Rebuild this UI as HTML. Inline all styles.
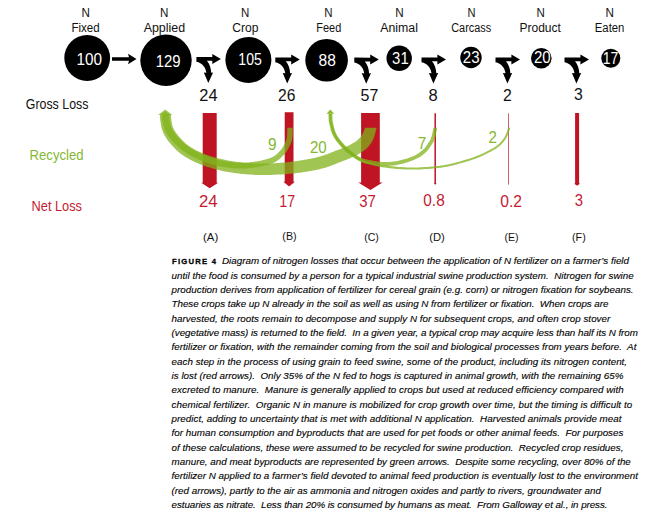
<!DOCTYPE html>
<html><head><meta charset="utf-8"><title>Figure 4</title>
<style>html,body{margin:0;padding:0;background:#fff;overflow:hidden;}svg{display:block;}text{font-family:"Liberation Sans",sans-serif;}</style></head><body>
<svg width="658" height="526" viewBox="0 0 658 526">
<rect width="658" height="526" fill="#fff"/>
<text x="85.6" y="16.8" font-size="12" fill="#111" text-anchor="middle" textLength="8.4" lengthAdjust="spacingAndGlyphs">N</text>
<text x="85.6" y="31.7" font-size="12" fill="#111" text-anchor="middle" textLength="28.2" lengthAdjust="spacingAndGlyphs">Fixed</text>
<text x="164.1" y="16.8" font-size="12" fill="#111" text-anchor="middle" textLength="8.4" lengthAdjust="spacingAndGlyphs">N</text>
<text x="164.4" y="31.7" font-size="12" fill="#111" text-anchor="middle" textLength="41.5" lengthAdjust="spacingAndGlyphs">Applied</text>
<text x="245.2" y="16.8" font-size="12" fill="#111" text-anchor="middle" textLength="8.3" lengthAdjust="spacingAndGlyphs">N</text>
<text x="245.4" y="31.7" font-size="12" fill="#111" text-anchor="middle" textLength="26.2" lengthAdjust="spacingAndGlyphs">Crop</text>
<text x="328.4" y="16.8" font-size="12" fill="#111" text-anchor="middle" textLength="8.3" lengthAdjust="spacingAndGlyphs">N</text>
<text x="328.8" y="31.7" font-size="12" fill="#111" text-anchor="middle" textLength="24.9" lengthAdjust="spacingAndGlyphs">Feed</text>
<text x="399.4" y="16.8" font-size="12" fill="#111" text-anchor="middle" textLength="8.4" lengthAdjust="spacingAndGlyphs">N</text>
<text x="399.1" y="31.7" font-size="12" fill="#111" text-anchor="middle" textLength="37.7" lengthAdjust="spacingAndGlyphs">Animal</text>
<text x="471.5" y="16.8" font-size="12" fill="#111" text-anchor="middle" textLength="8.0" lengthAdjust="spacingAndGlyphs">N</text>
<text x="471.2" y="31.7" font-size="12" fill="#111" text-anchor="middle" textLength="39.9" lengthAdjust="spacingAndGlyphs">Carcass</text>
<text x="540.6" y="16.8" font-size="12" fill="#111" text-anchor="middle" textLength="8.3" lengthAdjust="spacingAndGlyphs">N</text>
<text x="540.2" y="31.7" font-size="12" fill="#111" text-anchor="middle" textLength="41.5" lengthAdjust="spacingAndGlyphs">Product</text>
<text x="609.6" y="16.8" font-size="12" fill="#111" text-anchor="middle" textLength="8.4" lengthAdjust="spacingAndGlyphs">N</text>
<text x="609.6" y="31.7" font-size="12" fill="#111" text-anchor="middle" textLength="29.6" lengthAdjust="spacingAndGlyphs">Eaten</text>
<circle cx="87.2" cy="58.0" r="22.9" fill="#000"/>
<circle cx="166.0" cy="60.3" r="25.7" fill="#000"/>
<circle cx="248.4" cy="59.9" r="23.0" fill="#000"/>
<circle cx="326.6" cy="60.2" r="21.3" fill="#000"/>
<circle cx="399.2" cy="58.3" r="12.7" fill="#000"/>
<circle cx="471.0" cy="57.5" r="10.7" fill="#000"/>
<circle cx="541.3" cy="58.2" r="10.3" fill="#000"/>
<circle cx="610.8" cy="58.3" r="9.5" fill="#000"/>
<text x="89.3" y="64.6" font-size="15.6" fill="#fff" text-anchor="middle" textLength="25.6" lengthAdjust="spacingAndGlyphs">100</text>
<text x="168.2" y="66.7" font-size="15.6" fill="#fff" text-anchor="middle" textLength="24.9" lengthAdjust="spacingAndGlyphs">129</text>
<text x="250.1" y="65.0" font-size="15.6" fill="#fff" text-anchor="middle" textLength="23.5" lengthAdjust="spacingAndGlyphs">105</text>
<text x="327.2" y="66.2" font-size="15.6" fill="#fff" text-anchor="middle" textLength="17.3" lengthAdjust="spacingAndGlyphs">88</text>
<text x="400.4" y="63.9" font-size="15.6" fill="#fff" text-anchor="middle" textLength="16.6" lengthAdjust="spacingAndGlyphs">31</text>
<text x="471.2" y="63.2" font-size="15.6" fill="#fff" text-anchor="middle" textLength="16.8" lengthAdjust="spacingAndGlyphs">23</text>
<text x="542.3" y="63.2" font-size="15.6" fill="#fff" text-anchor="middle" textLength="16.8" lengthAdjust="spacingAndGlyphs">20</text>
<text x="610.6" y="63.9" font-size="15.6" fill="#fff" text-anchor="middle" textLength="15.6" lengthAdjust="spacingAndGlyphs">17</text>
<path d="M112.0,57.3 L129.0,57.3 L128.0,53.75 L136.5,59.0 L128.0,64.25 L129.0,60.7 L112.0,60.7 Z" fill="#000"/>
<path d="M196.4,57.0 L212.3,57.1 L212.3,54.0 L220.9,59.0 L212.3,64.0 L212.3,60.8 L206.9,60.8 C209.6,64.0 211.1,68.5 211.2,72.8 L213.1,72.5 L208.3,83.1 L203.8,72.5 L206.4,72.8 C205.8,68.0 202.2,62.6 196.4,61.8 Z" fill="#000"/>
<path d="M275.3,57.4 L291.2,57.5 L291.2,54.4 L299.8,59.4 L291.2,64.4 L291.2,61.2 L285.8,61.2 C288.5,64.4 290.0,68.9 290.1,73.2 L292.0,72.9 L287.2,83.5 L282.7,72.9 L285.3,73.2 C284.7,68.4 281.1,63.0 275.3,62.2 Z" fill="#000"/>
<path d="M354.3,57.6 L370.2,57.7 L370.2,54.6 L378.8,59.6 L370.2,64.6 L370.2,61.4 L364.8,61.4 C367.5,64.6 369.0,69.1 369.1,73.4 L371.0,73.1 L366.2,83.7 L361.7,73.1 L364.3,73.4 C363.7,68.6 360.1,63.2 354.3,62.4 Z" fill="#000"/>
<path d="M421.5,57.4 L437.4,57.5 L437.4,54.4 L446.0,59.4 L437.4,64.4 L437.4,61.2 L432.0,61.2 C434.7,64.4 436.2,68.9 436.3,73.2 L438.2,72.9 L433.4,83.5 L428.9,72.9 L431.5,73.2 C430.9,68.4 427.3,63.0 421.5,62.2 Z" fill="#000"/>
<path d="M495.5,57.4 L511.4,57.5 L511.4,54.4 L520.0,59.4 L511.4,64.4 L511.4,61.2 L506.0,61.2 C508.7,64.4 510.2,68.9 510.3,73.2 L512.2,72.9 L507.4,83.5 L502.9,72.9 L505.5,73.2 C504.9,68.4 501.3,63.0 495.5,62.2 Z" fill="#000"/>
<path d="M564.5,57.4 L580.4,57.5 L580.4,54.4 L589.0,59.4 L580.4,64.4 L580.4,61.2 L575.0,61.2 C577.7,64.4 579.2,68.9 579.3,73.2 L581.2,72.9 L576.4,83.5 L571.9,72.9 L574.5,73.2 C573.9,68.4 570.3,63.0 564.5,62.2 Z" fill="#000"/>
<text x="208.4" y="100.6" font-size="15.6" fill="#111" text-anchor="middle" textLength="18.2" lengthAdjust="spacingAndGlyphs">24</text>
<text x="286.7" y="100.6" font-size="15.6" fill="#111" text-anchor="middle" textLength="17.4" lengthAdjust="spacingAndGlyphs">26</text>
<text x="369.4" y="100.6" font-size="15.6" fill="#111" text-anchor="middle" textLength="17.8" lengthAdjust="spacingAndGlyphs">57</text>
<text x="433.0" y="100.6" font-size="15.6" fill="#111" text-anchor="middle" textLength="9.2" lengthAdjust="spacingAndGlyphs">8</text>
<text x="507.4" y="100.6" font-size="15.6" fill="#111" text-anchor="middle" textLength="8.8" lengthAdjust="spacingAndGlyphs">2</text>
<text x="578.4" y="99.7" font-size="15.6" fill="#111" text-anchor="middle" textLength="8.8" lengthAdjust="spacingAndGlyphs">3</text>
<text x="25.8" y="109.0" font-size="14" fill="#111" text-anchor="start" textLength="62.6" lengthAdjust="spacingAndGlyphs">Gross Loss</text>
<text x="29.6" y="160.0" font-size="14" fill="#84b832" text-anchor="start" textLength="54.0" lengthAdjust="spacingAndGlyphs">Recycled</text>
<text x="31.6" y="210.8" font-size="14" fill="#c41c32" text-anchor="start" textLength="50.4" lengthAdjust="spacingAndGlyphs">Net Loss</text>
<path d="M202.7,113.0 L216.7,113.0 L216.7,182.8 L218.2,182.8 L209.7,188.3 L201.2,182.8 L202.7,182.8 Z" fill="#be1424"/>
<path d="M284.70000000000005,112.2 L293.5,112.2 L293.5,181.8 L294.90000000000003,181.8 L289.1,186.4 L283.3,181.8 L284.70000000000005,181.8 Z" fill="#be1424"/>
<path d="M361.09999999999997,113.1 L379.8,113.1 L379.8,182.6 L382.59999999999997,182.6 L370.45,190.1 L358.3,182.6 L361.09999999999997,182.6 Z" fill="#be1424"/>
<path d="M434.45,113.3 L435.95,113.3 L435.95,183.2 L436.7,183.2 L435.2,184.8 L433.7,183.2 L434.45,183.2 Z" fill="#be1424"/>
<rect x="508.0" y="113.3" width="0.9" height="71.3" fill="#be1424" opacity="0.75"/>
<path d="M575.1,112.9 L579.1,112.9 L579.1,183.4 L580.2,183.4 L577.1,185.8 L574.0,183.4 L575.1,183.4 Z" fill="#be1424"/>
<defs><clipPath id="cg"><rect x="0" y="127.7" width="658" height="100"/><rect x="150" y="113.6" width="40" height="20"/><rect x="322" y="113.4" width="18" height="20"/></clipPath></defs>
<g clip-path="url(#cg)">
<path d="M367.0,120.1 L366.8,120.8 L366.6,121.6 L366.5,122.4 L366.3,123.1 L366.2,123.8 L366.0,124.5 L365.8,125.3 L365.5,126.2 L365.2,127.2 L364.8,128.3 L364.5,129.4 L364.1,130.5 L363.7,131.6 L363.2,132.6 L362.8,133.5 L362.3,134.4 L361.8,135.2 L361.2,136.0 L360.6,136.8 L360.0,137.6 L359.3,138.4 L358.6,139.1 L357.9,139.8 L357.1,140.5 L356.2,141.2 L355.2,141.9 L354.1,142.6 L352.8,143.3 L351.5,144.0 L350.2,144.7 L348.8,145.4 L347.4,146.1 L346.1,146.7 L344.8,147.2 L343.4,147.8 L342.1,148.3 L340.6,148.9 L339.2,149.4 L337.6,150.0 L336.0,150.6 L334.4,151.3 L332.8,151.9 L331.1,152.6 L329.5,153.3 L327.9,153.9 L326.3,154.5 L324.7,155.0 L323.2,155.6 L321.7,156.0 L320.2,156.4 L318.8,156.8 L317.3,157.2 L315.8,157.6 L314.3,157.9 L312.6,158.3 L310.7,158.7 L308.8,159.0 L306.6,159.4 L304.4,159.8 L302.1,160.2 L299.8,160.6 L297.5,161.0 L295.1,161.3 L292.8,161.6 L290.5,161.9 L288.3,162.1 L286.0,162.4 L283.7,162.6 L281.4,162.8 L279.1,162.9 L276.8,163.1 L274.5,163.2 L272.2,163.3 L269.9,163.4 L267.6,163.5 L265.3,163.6 L263.0,163.6 L260.7,163.6 L258.5,163.6 L256.2,163.5 L253.9,163.4 L251.7,163.3 L249.4,163.2 L247.1,163.0 L244.9,162.8 L242.6,162.6 L240.4,162.3 L238.1,162.1 L235.8,161.8 L233.6,161.4 L231.3,161.1 L229.0,160.7 L226.8,160.3 L224.5,159.8 L222.3,159.3 L220.1,158.8 L217.8,158.2 L215.5,157.6 L213.2,156.9 L210.9,156.2 L208.6,155.4 L206.4,154.7 L204.3,153.9 L202.2,153.0 L200.3,152.2 L198.3,151.3 L196.5,150.4 L194.7,149.4 L193.0,148.5 L191.3,147.5 L189.8,146.5 L188.3,145.5 L187.0,144.4 L185.7,143.4 L184.4,142.3 L183.2,141.1 L182.1,140.0 L181.0,138.8 L179.9,137.6 L178.9,136.4 L177.9,135.3 L177.0,134.1 L176.2,133.0 L175.4,131.9 L174.8,130.9 L174.1,129.8 L173.6,128.8 L173.2,127.8 L172.8,126.9 L172.5,125.9 L172.2,124.8 L172.0,123.7 L171.8,122.6 L171.6,121.4 L171.4,120.3 L171.3,119.4 L171.2,118.5 L171.1,117.9 L171.1,117.4 L171.0,116.9 L171.0,116.4 L171.0,115.8 L171.0,115.1 L171.0,114.5 L160.0,114.7 L160.0,115.3 L160.0,115.9 L160.0,116.5 L160.0,117.2 L160.1,118.0 L160.1,118.9 L160.2,119.8 L160.4,120.8 L160.5,121.9 L160.7,123.1 L160.9,124.4 L161.1,125.8 L161.4,127.3 L161.8,128.9 L162.4,130.5 L163.0,132.1 L163.7,133.7 L164.5,135.2 L165.3,136.6 L166.2,138.1 L167.2,139.5 L168.2,140.9 L169.3,142.2 L170.4,143.6 L171.6,144.9 L172.8,146.3 L174.1,147.7 L175.4,149.1 L176.9,150.5 L178.4,151.8 L180.1,153.2 L181.8,154.5 L183.6,155.7 L185.4,156.9 L187.4,158.1 L189.4,159.2 L191.4,160.3 L193.5,161.3 L195.7,162.4 L197.9,163.3 L200.2,164.3 L202.5,165.2 L205.0,166.0 L207.4,166.9 L209.9,167.6 L212.4,168.4 L214.9,169.1 L217.3,169.7 L219.8,170.3 L222.2,170.9 L224.6,171.4 L227.1,171.8 L229.5,172.2 L231.9,172.6 L234.3,173.0 L236.7,173.3 L239.1,173.6 L241.5,173.9 L243.9,174.1 L246.2,174.3 L248.6,174.5 L251.0,174.6 L253.4,174.8 L255.8,174.9 L258.2,174.9 L260.6,175.0 L263.1,175.0 L265.5,175.0 L267.9,174.9 L270.3,174.9 L272.7,174.8 L275.1,174.8 L277.5,174.6 L279.8,174.5 L282.2,174.4 L284.6,174.2 L287.0,174.0 L289.4,173.8 L291.8,173.6 L294.2,173.4 L296.7,173.1 L299.1,172.8 L301.6,172.4 L304.0,172.1 L306.4,171.7 L308.7,171.3 L310.9,170.9 L313.0,170.6 L315.0,170.2 L316.8,169.8 L318.6,169.4 L320.2,169.0 L321.9,168.6 L323.5,168.2 L325.2,167.7 L326.9,167.2 L328.7,166.6 L330.4,166.0 L332.2,165.3 L334.0,164.6 L335.7,163.9 L337.3,163.3 L338.9,162.6 L340.5,162.0 L342.0,161.4 L343.5,160.8 L345.0,160.3 L346.5,159.7 L348.0,159.1 L349.5,158.5 L351.1,157.8 L352.6,157.1 L354.1,156.4 L355.7,155.6 L357.2,154.8 L358.8,154.0 L360.3,153.1 L361.8,152.1 L363.3,151.1 L364.8,150.0 L366.1,148.9 L367.3,147.7 L368.5,146.5 L369.5,145.3 L370.5,144.0 L371.3,142.7 L372.1,141.4 L372.8,140.0 L373.5,138.5 L374.1,137.0 L374.6,135.5 L375.0,134.0 L375.4,132.6 L375.7,131.3 L376.0,130.1 L376.3,129.0 L376.5,127.9 L376.7,126.9 L376.9,125.9 L377.0,125.0 L377.1,124.2 L377.2,123.5 L377.3,122.7 L377.4,121.9 Z" fill="#80b219" fill-opacity="0.75"/>
<path d="M287.6,120.9 L287.5,121.8 L287.5,122.6 L287.5,123.4 L287.5,124.2 L287.4,125.1 L287.4,126.0 L287.4,126.9 L287.3,128.0 L287.3,129.2 L287.3,130.5 L287.2,131.9 L287.2,133.3 L287.1,134.6 L287.1,135.9 L286.9,137.1 L286.8,138.1 L286.6,139.0 L286.4,139.8 L286.1,140.6 L285.8,141.3 L285.5,142.0 L285.2,142.7 L284.8,143.5 L284.4,144.3 L284.0,145.0 L283.6,145.8 L283.2,146.5 L282.8,147.1 L282.4,147.8 L281.9,148.5 L281.4,149.2 L280.8,149.9 L280.2,150.6 L279.4,151.5 L278.6,152.3 L277.8,153.1 L277.0,153.9 L276.1,154.7 L275.3,155.3 L274.4,155.9 L273.6,156.4 L272.8,156.9 L271.9,157.3 L271.0,157.7 L270.1,158.0 L269.1,158.4 L268.1,158.7 L267.2,159.0 L266.2,159.3 L265.3,159.6 L264.4,159.8 L263.5,160.1 L262.5,160.3 L261.5,160.5 L260.5,160.7 L259.3,160.9 L258.1,161.1 L256.8,161.4 L255.5,161.6 L254.1,161.8 L252.7,162.0 L251.3,162.1 L249.9,162.3 L248.5,162.4 L247.0,162.5 L245.6,162.7 L244.1,162.7 L242.7,162.8 L241.2,162.8 L239.7,162.8 L238.1,162.8 L236.3,162.7 L234.4,162.5 L232.4,162.3 L230.3,162.0 L228.2,161.7 L226.0,161.4 L223.8,161.0 L221.6,160.5 L219.4,160.0 L217.2,159.4 L215.0,158.8 L212.7,158.1 L210.5,157.4 L208.2,156.6 L206.1,155.8 L203.9,154.9 L201.9,154.1 L199.9,153.2 L198.0,152.3 L196.1,151.4 L194.3,150.4 L192.5,149.4 L190.8,148.4 L189.2,147.4 L187.7,146.3 L186.3,145.3 L184.9,144.2 L183.6,143.1 L182.4,141.9 L181.2,140.8 L180.1,139.6 L179.0,138.4 L177.9,137.3 L176.9,136.1 L176.0,135.0 L175.1,133.9 L174.3,132.8 L173.5,131.7 L172.9,130.6 L172.3,129.6 L171.7,128.5 L171.3,127.4 L170.9,126.3 L170.5,125.2 L170.2,123.9 L170.0,122.7 L169.7,121.6 L169.5,120.5 L169.3,119.5 L169.2,118.7 L169.1,118.0 L169.1,117.4 L169.1,116.9 L169.0,116.3 L169.0,115.7 L169.0,115.1 L169.0,114.5 L162.0,114.7 L162.0,115.3 L162.0,115.9 L162.1,116.5 L162.1,117.2 L162.1,117.9 L162.2,118.8 L162.3,119.7 L162.5,120.7 L162.7,121.8 L163.0,122.9 L163.2,124.2 L163.5,125.6 L163.9,127.0 L164.4,128.5 L164.9,130.0 L165.6,131.4 L166.3,132.8 L167.1,134.2 L167.9,135.5 L168.8,136.8 L169.8,138.0 L170.8,139.3 L171.9,140.5 L173.0,141.7 L174.1,143.0 L175.3,144.2 L176.6,145.5 L177.9,146.7 L179.3,148.0 L180.8,149.2 L182.4,150.5 L184.0,151.6 L185.7,152.8 L187.5,153.9 L189.3,155.0 L191.2,156.0 L193.2,157.0 L195.2,158.0 L197.3,159.0 L199.4,159.9 L201.6,160.8 L203.9,161.6 L206.2,162.4 L208.5,163.2 L210.9,164.0 L213.3,164.7 L215.6,165.3 L218.0,165.9 L220.3,166.4 L222.7,166.9 L225.0,167.3 L227.3,167.6 L229.6,167.9 L231.8,168.1 L233.9,168.3 L235.9,168.5 L237.8,168.6 L239.6,168.6 L241.3,168.6 L242.9,168.6 L244.5,168.5 L246.0,168.4 L247.5,168.3 L249.0,168.1 L250.5,168.0 L252.0,167.8 L253.5,167.6 L255.0,167.4 L256.4,167.2 L257.8,167.0 L259.1,166.7 L260.4,166.5 L261.6,166.3 L262.7,166.0 L263.8,165.8 L264.8,165.5 L265.8,165.3 L266.8,165.0 L267.9,164.7 L268.9,164.4 L269.9,164.0 L271.0,163.7 L272.0,163.3 L273.1,162.9 L274.2,162.4 L275.3,161.9 L276.4,161.2 L277.5,160.5 L278.6,159.8 L279.7,158.9 L280.7,158.0 L281.7,157.1 L282.6,156.1 L283.5,155.2 L284.3,154.3 L285.1,153.4 L285.8,152.5 L286.4,151.7 L287.0,150.8 L287.5,150.0 L288.0,149.2 L288.4,148.3 L288.8,147.5 L289.2,146.7 L289.6,146.0 L290.0,145.2 L290.4,144.3 L290.8,143.4 L291.2,142.5 L291.6,141.4 L291.9,140.3 L292.1,139.1 L292.3,137.8 L292.4,136.4 L292.5,134.9 L292.6,133.4 L292.6,132.0 L292.6,130.6 L292.6,129.3 L292.7,128.2 L292.7,127.1 L292.7,126.1 L292.8,125.2 L292.8,124.4 L292.8,123.5 L292.8,122.7 L292.8,121.9 L292.8,121.1 Z" fill="#80b219" fill-opacity="0.75"/>
<path d="M434.4,120.8 L434.3,121.5 L434.2,122.2 L434.2,122.8 L434.1,123.4 L434.0,124.1 L434.0,124.8 L433.8,125.7 L433.6,126.7 L433.4,127.9 L433.1,129.3 L432.8,130.8 L432.5,132.4 L432.1,134.0 L431.8,135.4 L431.4,136.8 L431.0,138.0 L430.7,138.9 L430.3,139.8 L429.9,140.5 L429.5,141.1 L429.1,141.8 L428.7,142.4 L428.2,143.1 L427.7,143.9 L427.1,144.7 L426.6,145.4 L426.1,146.2 L425.6,146.9 L425.0,147.7 L424.4,148.4 L423.7,149.1 L423.0,149.8 L422.1,150.6 L421.2,151.3 L420.3,152.1 L419.3,152.8 L418.2,153.6 L417.0,154.3 L415.7,155.0 L414.3,155.7 L412.7,156.4 L411.0,157.0 L409.1,157.7 L407.2,158.4 L405.2,159.0 L403.2,159.6 L401.3,160.1 L399.5,160.5 L397.8,160.9 L396.2,161.2 L394.6,161.4 L393.0,161.6 L391.5,161.8 L390.1,161.9 L388.7,162.0 L387.5,162.1 L386.3,162.1 L385.3,162.1 L384.4,162.1 L383.5,162.0 L382.6,162.0 L381.8,161.9 L381.0,161.8 L380.2,161.7 L379.5,161.7 L379.0,161.6 L378.5,161.6 L378.1,161.6 L377.6,161.5 L377.0,161.4 L376.2,161.3 L375.1,161.1 L373.8,160.9 L372.3,160.6 L370.6,160.3 L368.8,160.0 L366.9,159.6 L365.1,159.2 L363.4,158.7 L361.8,158.0 L360.3,157.3 L358.7,156.5 L357.2,155.5 L355.7,154.4 L354.3,153.4 L352.8,152.3 L351.5,151.2 L350.3,150.3 L349.2,149.3 L348.2,148.5 L347.3,147.7 L346.5,146.9 L345.7,146.1 L344.9,145.3 L344.2,144.4 L343.4,143.6 L342.7,142.8 L341.9,141.9 L341.2,141.1 L340.5,140.2 L339.9,139.4 L339.3,138.6 L338.7,137.7 L338.1,137.0 L337.7,136.2 L337.2,135.5 L336.8,134.8 L336.5,134.1 L336.1,133.4 L335.8,132.6 L335.5,131.8 L335.1,130.9 L334.8,129.9 L334.5,128.7 L334.1,127.5 L333.8,126.2 L333.5,124.9 L333.3,123.7 L333.0,122.7 L332.8,121.8 L332.7,121.0 L332.6,120.5 L332.5,120.0 L332.5,119.7 L332.5,119.4 L332.5,119.1 L332.5,118.6 L332.4,118.2 L332.4,117.7 L332.4,117.1 L332.4,116.5 L332.4,115.9 L332.4,115.3 L332.4,114.7 L332.4,114.1 L332.3,113.5 L328.5,113.5 L328.5,114.1 L328.5,114.8 L328.5,115.4 L328.5,116.0 L328.5,116.6 L328.5,117.2 L328.5,117.8 L328.6,118.3 L328.6,118.8 L328.6,119.2 L328.6,119.6 L328.6,120.0 L328.7,120.5 L328.8,121.1 L328.9,121.7 L329.0,122.5 L329.2,123.5 L329.5,124.6 L329.7,125.8 L330.1,127.1 L330.4,128.4 L330.7,129.7 L331.1,131.0 L331.5,132.1 L331.8,133.2 L332.2,134.1 L332.6,135.0 L333.0,135.8 L333.4,136.6 L333.9,137.4 L334.4,138.3 L334.9,139.1 L335.5,140.0 L336.1,140.8 L336.8,141.7 L337.5,142.6 L338.3,143.5 L339.0,144.4 L339.8,145.3 L340.6,146.2 L341.3,147.0 L342.1,147.9 L342.9,148.7 L343.8,149.6 L344.7,150.5 L345.7,151.4 L346.7,152.3 L347.9,153.2 L349.1,154.3 L350.5,155.3 L351.9,156.4 L353.5,157.6 L355.1,158.7 L356.8,159.7 L358.5,160.7 L360.3,161.6 L362.2,162.3 L364.1,162.9 L366.1,163.4 L368.0,163.8 L369.9,164.1 L371.6,164.4 L373.2,164.6 L374.5,164.8 L375.5,165.0 L376.4,165.2 L377.1,165.3 L377.7,165.3 L378.2,165.4 L378.7,165.4 L379.3,165.5 L379.9,165.5 L380.6,165.6 L381.4,165.7 L382.3,165.7 L383.2,165.8 L384.2,165.9 L385.3,165.9 L386.4,165.9 L387.7,165.9 L389.0,165.8 L390.4,165.7 L391.9,165.6 L393.5,165.4 L395.1,165.2 L396.8,164.9 L398.6,164.6 L400.4,164.2 L402.3,163.7 L404.2,163.2 L406.3,162.6 L408.3,162.0 L410.3,161.3 L412.3,160.6 L414.2,159.8 L415.9,159.1 L417.4,158.3 L418.9,157.5 L420.2,156.7 L421.4,155.9 L422.6,155.1 L423.6,154.2 L424.6,153.4 L425.5,152.6 L426.4,151.7 L427.2,150.9 L427.9,150.0 L428.6,149.2 L429.2,148.3 L429.7,147.5 L430.2,146.7 L430.7,146.0 L431.2,145.3 L431.7,144.6 L432.2,143.8 L432.7,143.1 L433.2,142.3 L433.7,141.4 L434.1,140.3 L434.6,139.2 L435.0,137.8 L435.4,136.4 L435.8,134.8 L436.1,133.2 L436.5,131.6 L436.8,130.0 L437.1,128.6 L437.3,127.4 L437.5,126.3 L437.6,125.4 L437.7,124.5 L437.8,123.8 L437.9,123.1 L437.9,122.5 L438.0,121.8 L438.0,121.2 Z" fill="#80b219" fill-opacity="0.75"/>
<path d="M510.6,120.7 L510.3,121.4 L510.1,122.1 L509.9,122.8 L509.6,123.5 L509.4,124.3 L509.1,125.1 L508.8,126.0 L508.4,127.0 L508.0,128.1 L507.6,129.4 L507.2,130.7 L506.8,132.1 L506.2,133.5 L505.7,134.8 L505.0,136.2 L504.3,137.4 L503.5,138.6 L502.6,139.8 L501.7,141.0 L500.7,142.1 L499.6,143.3 L498.3,144.4 L496.9,145.5 L495.3,146.7 L493.4,147.9 L491.3,149.1 L489.1,150.3 L486.7,151.5 L484.2,152.7 L481.6,153.9 L479.1,155.0 L476.6,156.0 L474.1,157.0 L471.5,157.9 L468.9,158.7 L466.3,159.5 L463.8,160.3 L461.3,161.0 L459.0,161.7 L456.9,162.3 L455.0,162.8 L453.2,163.2 L451.6,163.6 L450.1,164.0 L448.7,164.3 L447.3,164.6 L446.0,164.8 L444.6,165.1 L443.3,165.3 L442.1,165.5 L440.8,165.6 L439.6,165.8 L438.4,165.9 L437.2,166.0 L436.0,166.1 L434.8,166.3 L433.6,166.4 L432.4,166.5 L431.2,166.6 L430.0,166.7 L428.7,166.8 L427.5,166.9 L426.2,167.0 L424.8,167.1 L423.4,167.1 L421.9,167.2 L420.3,167.3 L418.7,167.4 L417.2,167.4 L415.6,167.5 L414.0,167.5 L412.4,167.5 L410.8,167.5 L409.3,167.5 L407.7,167.5 L406.2,167.4 L404.6,167.3 L403.1,167.2 L401.5,167.1 L400.0,167.0 L398.4,166.9 L396.8,166.8 L395.1,166.6 L393.5,166.4 L392.0,166.2 L390.4,166.1 L389.0,165.9 L387.7,165.8 L386.6,165.6 L385.6,165.5 L384.7,165.4 L383.9,165.3 L383.0,165.2 L382.2,165.1 L381.2,164.9 L380.1,164.7 L378.8,164.5 L377.3,164.2 L375.8,163.8 L374.2,163.5 L372.6,163.1 L371.1,162.7 L369.7,162.3 L368.4,162.0 L367.3,161.7 L366.4,161.4 L365.6,161.2 L364.9,160.9 L364.2,160.6 L363.4,160.3 L362.5,159.8 L361.4,159.2 L360.2,158.4 L358.7,157.5 L357.2,156.4 L355.6,155.3 L354.0,154.2 L352.5,153.1 L351.1,152.0 L349.8,151.0 L348.7,150.1 L347.7,149.2 L346.7,148.4 L345.9,147.6 L345.1,146.7 L344.3,145.9 L343.6,145.1 L342.8,144.3 L342.1,143.4 L341.3,142.5 L340.6,141.7 L339.9,140.8 L339.2,139.9 L338.6,139.1 L338.0,138.2 L337.4,137.4 L336.9,136.6 L336.5,135.9 L336.1,135.2 L335.7,134.5 L335.3,133.7 L335.0,132.9 L334.7,132.1 L334.3,131.2 L334.0,130.1 L333.7,128.9 L333.3,127.7 L333.0,126.4 L332.7,125.1 L332.4,123.9 L332.2,122.8 L332.0,121.9 L331.9,121.2 L331.8,120.6 L331.7,120.2 L331.7,119.8 L331.6,119.4 L331.6,119.1 L331.6,118.7 L331.6,118.2 L331.6,117.7 L331.6,117.1 L331.5,116.5 L331.5,115.9 L331.5,115.3 L331.5,114.7 L331.5,114.1 L331.5,113.5 L329.3,113.5 L329.3,114.1 L329.3,114.7 L329.3,115.4 L329.3,116.0 L329.3,116.6 L329.4,117.2 L329.4,117.8 L329.4,118.3 L329.4,118.8 L329.4,119.2 L329.5,119.6 L329.5,120.0 L329.5,120.4 L329.6,120.9 L329.7,121.6 L329.9,122.4 L330.1,123.3 L330.3,124.4 L330.6,125.6 L330.9,126.9 L331.2,128.2 L331.5,129.5 L331.9,130.7 L332.3,131.9 L332.6,132.9 L333.0,133.8 L333.4,134.6 L333.8,135.4 L334.2,136.2 L334.6,137.0 L335.1,137.8 L335.6,138.6 L336.2,139.5 L336.8,140.4 L337.5,141.3 L338.2,142.1 L338.9,143.0 L339.7,143.9 L340.4,144.8 L341.2,145.7 L342.0,146.6 L342.7,147.4 L343.5,148.2 L344.4,149.1 L345.3,149.9 L346.2,150.8 L347.3,151.7 L348.4,152.7 L349.8,153.7 L351.2,154.8 L352.8,156.0 L354.4,157.1 L356.0,158.2 L357.6,159.3 L359.0,160.2 L360.3,161.0 L361.4,161.7 L362.4,162.2 L363.3,162.6 L364.1,162.9 L364.9,163.2 L365.8,163.5 L366.8,163.8 L367.9,164.1 L369.1,164.4 L370.6,164.8 L372.1,165.2 L373.7,165.5 L375.3,165.9 L376.9,166.2 L378.3,166.5 L379.7,166.8 L380.8,167.0 L381.8,167.2 L382.7,167.3 L383.6,167.4 L384.5,167.5 L385.4,167.6 L386.4,167.7 L387.5,167.9 L388.8,168.0 L390.2,168.2 L391.7,168.4 L393.3,168.5 L394.9,168.7 L396.6,168.9 L398.2,169.0 L399.8,169.1 L401.4,169.3 L403.0,169.3 L404.5,169.4 L406.1,169.5 L407.7,169.6 L409.2,169.6 L410.8,169.6 L412.4,169.6 L414.0,169.6 L415.6,169.6 L417.2,169.5 L418.8,169.5 L420.4,169.4 L422.0,169.3 L423.5,169.2 L424.9,169.1 L426.3,169.1 L427.6,169.0 L428.9,168.9 L430.1,168.8 L431.4,168.7 L432.6,168.6 L433.8,168.5 L435.0,168.3 L436.2,168.2 L437.4,168.1 L438.6,168.0 L439.8,167.8 L441.1,167.7 L442.3,167.5 L443.7,167.3 L445.0,167.1 L446.3,166.9 L447.7,166.6 L449.1,166.3 L450.6,166.0 L452.1,165.6 L453.7,165.2 L455.5,164.8 L457.4,164.2 L459.6,163.6 L461.9,163.0 L464.3,162.3 L466.9,161.5 L469.5,160.7 L472.2,159.8 L474.8,158.9 L477.4,157.9 L479.9,156.9 L482.5,155.7 L485.0,154.6 L487.6,153.3 L490.0,152.1 L492.3,150.8 L494.5,149.6 L496.4,148.4 L498.1,147.1 L499.6,145.9 L501.0,144.7 L502.2,143.5 L503.3,142.3 L504.2,141.1 L505.2,139.8 L506.0,138.5 L506.8,137.1 L507.5,135.7 L508.1,134.2 L508.7,132.7 L509.1,131.3 L509.6,130.0 L510.0,128.7 L510.3,127.6 L510.7,126.6 L511.0,125.7 L511.3,124.9 L511.5,124.2 L511.8,123.4 L512.0,122.7 L512.2,122.0 L512.4,121.3 Z" fill="#80b219" fill-opacity="0.75"/>
</g>
<path d="M158.1,115 L165.2,109.6 L172.4,115 Z" fill="#80b219" fill-opacity="0.75"/>
<path d="M160.4,115 L165.2,111.2 L170.2,115 Z" fill="#80b219" fill-opacity="0.6"/>
<path d="M326.5,113.8 L330.3,109.5 L334.1,113.8 Z" fill="#80b219" fill-opacity="0.9"/>
<text x="272.4" y="150.0" font-size="16.5" fill="#84b832" text-anchor="middle" textLength="8.6" lengthAdjust="spacingAndGlyphs">9</text>
<text x="318.3" y="153.1" font-size="16.5" fill="#84b832" text-anchor="middle" textLength="16.8" lengthAdjust="spacingAndGlyphs">20</text>
<text x="422.1" y="148.6" font-size="16.5" fill="#84b832" text-anchor="middle" textLength="8.6" lengthAdjust="spacingAndGlyphs">7</text>
<text x="492.6" y="142.6" font-size="16.5" fill="#84b832" text-anchor="middle" textLength="8.4" lengthAdjust="spacingAndGlyphs">2</text>
<text x="208.2" y="207.20000000000002" font-size="15.6" fill="#c41c32" text-anchor="middle" textLength="18.6" lengthAdjust="spacingAndGlyphs">24</text>
<text x="287.2" y="207.20000000000002" font-size="15.6" fill="#c41c32" text-anchor="middle" textLength="15.8" lengthAdjust="spacingAndGlyphs">17</text>
<text x="367.6" y="206.8" font-size="15.6" fill="#c41c32" text-anchor="middle" textLength="16.7" lengthAdjust="spacingAndGlyphs">37</text>
<text x="434.0" y="205.9" font-size="15.6" fill="#c41c32" text-anchor="middle" textLength="21.4" lengthAdjust="spacingAndGlyphs">0.8</text>
<text x="511.1" y="207.20000000000002" font-size="15.6" fill="#c41c32" text-anchor="middle" textLength="21.7" lengthAdjust="spacingAndGlyphs">0.2</text>
<text x="579.0" y="206.20000000000002" font-size="15.6" fill="#c41c32" text-anchor="middle" textLength="8.3" lengthAdjust="spacingAndGlyphs">3</text>
<text x="210.6" y="241.4" font-size="11.6" fill="#111" text-anchor="middle" textLength="15.2" lengthAdjust="spacingAndGlyphs">(A)</text>
<text x="289.5" y="240.4" font-size="11.6" fill="#111" text-anchor="middle" textLength="14.3" lengthAdjust="spacingAndGlyphs">(B)</text>
<text x="371.5" y="240.8" font-size="11.6" fill="#111" text-anchor="middle" textLength="14.6" lengthAdjust="spacingAndGlyphs">(C)</text>
<text x="437.0" y="240.8" font-size="11.6" fill="#111" text-anchor="middle" textLength="15.6" lengthAdjust="spacingAndGlyphs">(D)</text>
<text x="511.4" y="240.8" font-size="11.6" fill="#111" text-anchor="middle" textLength="14.0" lengthAdjust="spacingAndGlyphs">(E)</text>
<text x="578.9" y="240.8" font-size="11.6" fill="#111" text-anchor="middle" textLength="13.7" lengthAdjust="spacingAndGlyphs">(F)</text>
<text x="172" y="264.1" font-size="7.7" font-weight="bold" fill="#000" stroke="#000" stroke-width="0.3" textLength="44" lengthAdjust="spacing">FIGURE 4</text>
<text x="222.0" y="264.2" font-size="9.8" font-style="italic" fill="#000" stroke="#000" stroke-width="0.12" textLength="407.0" lengthAdjust="spacing" xml:space="preserve">Diagram of nitrogen losses that occur between the application of N fertilizer on a farmer’s field</text>
<text x="171.6" y="278.53" font-size="9.8" font-style="italic" fill="#000" stroke="#000" stroke-width="0.12" textLength="462.0" lengthAdjust="spacing" xml:space="preserve">until the food is consumed by a person for a typical industrial swine production system.  Nitrogen for swine</text>
<text x="171.6" y="292.87" font-size="9.8" font-style="italic" fill="#000" stroke="#000" stroke-width="0.12" textLength="462.0" lengthAdjust="spacing" xml:space="preserve">production derives from application of fertilizer for cereal grain (e.g. corn) or nitrogen fixation for soybeans.</text>
<text x="171.6" y="307.2" font-size="9.8" font-style="italic" fill="#000" stroke="#000" stroke-width="0.12" textLength="436.8" lengthAdjust="spacing" xml:space="preserve">These crops take up N already in the soil as well as using N from fertilizer or fixation.  When crops are</text>
<text x="171.6" y="321.54" font-size="9.8" font-style="italic" fill="#000" stroke="#000" stroke-width="0.12" textLength="438.7" lengthAdjust="spacing" xml:space="preserve">harvested, the roots remain to decompose and supply N for subsequent crops, and often crop stover</text>
<text x="171.6" y="335.88" font-size="9.8" font-style="italic" fill="#000" stroke="#000" stroke-width="0.12" textLength="466.3" lengthAdjust="spacing" xml:space="preserve">(vegetative mass) is returned to the field.  In a given year, a typical crop may acquire less than half its N from</text>
<text x="171.6" y="350.21" font-size="9.8" font-style="italic" fill="#000" stroke="#000" stroke-width="0.12" textLength="464.8" lengthAdjust="spacing" xml:space="preserve">fertilizer or fixation, with the remainder coming from the soil and biological processes from years before.  At</text>
<text x="171.6" y="364.54" font-size="9.8" font-style="italic" fill="#000" stroke="#000" stroke-width="0.12" textLength="455.5" lengthAdjust="spacing" xml:space="preserve">each step in the process of using grain to feed swine, some of the product, including its nitrogen content,</text>
<text x="171.6" y="378.88" font-size="9.8" font-style="italic" fill="#000" stroke="#000" stroke-width="0.12" textLength="451.8" lengthAdjust="spacing" xml:space="preserve">is lost (red arrows).  Only 35% of the N fed to hogs is captured in animal growth, with the remaining 65%</text>
<text x="171.6" y="393.22" font-size="9.8" font-style="italic" fill="#000" stroke="#000" stroke-width="0.12" textLength="452.1" lengthAdjust="spacing" xml:space="preserve">excreted to manure.  Manure is generally applied to crops but used at reduced efficiency compared with</text>
<text x="171.6" y="407.55" font-size="9.8" font-style="italic" fill="#000" stroke="#000" stroke-width="0.12" textLength="460.5" lengthAdjust="spacing" xml:space="preserve">chemical fertilizer.  Organic N in manure is mobilized for crop growth over time, but the timing is difficult to</text>
<text x="171.6" y="421.88" font-size="9.8" font-style="italic" fill="#000" stroke="#000" stroke-width="0.12" textLength="449.9" lengthAdjust="spacing" xml:space="preserve">predict, adding to uncertainty that is met with additional N application.  Harvested animals provide meat</text>
<text x="171.6" y="436.22" font-size="9.8" font-style="italic" fill="#000" stroke="#000" stroke-width="0.12" textLength="451.8" lengthAdjust="spacing" xml:space="preserve">for human consumption and byproducts that are used for pet foods or other animal feeds.  For purposes</text>
<text x="171.6" y="450.56" font-size="9.8" font-style="italic" fill="#000" stroke="#000" stroke-width="0.12" textLength="451.8" lengthAdjust="spacing" xml:space="preserve">of these calculations, these were assumed to be recycled for swine production.  Recycled crop residues,</text>
<text x="171.6" y="464.89" font-size="9.8" font-style="italic" fill="#000" stroke="#000" stroke-width="0.12" textLength="459.2" lengthAdjust="spacing" xml:space="preserve">manure, and meat byproducts are represented by green arrows.  Despite some recycling, over 80% of the</text>
<text x="171.6" y="479.23" font-size="9.8" font-style="italic" fill="#000" stroke="#000" stroke-width="0.12" textLength="466.3" lengthAdjust="spacing" xml:space="preserve">fertilizer N applied to a farmer’s field devoted to animal feed production is eventually lost to the environment</text>
<text x="171.6" y="493.56" font-size="9.8" font-style="italic" fill="#000" stroke="#000" stroke-width="0.12" textLength="429.3" lengthAdjust="spacing" xml:space="preserve">(red arrows), partly to the air as ammonia and nitrogen oxides and partly to rivers, groundwater and</text>
<text x="171.6" y="507.89" font-size="9.8" font-style="italic" fill="#000" stroke="#000" stroke-width="0.12" textLength="435.9" lengthAdjust="spacing" xml:space="preserve">estuaries as nitrate.  Less than 20% is consumed by humans as meat.  From Galloway et al., in press.</text>
</svg></body></html>
